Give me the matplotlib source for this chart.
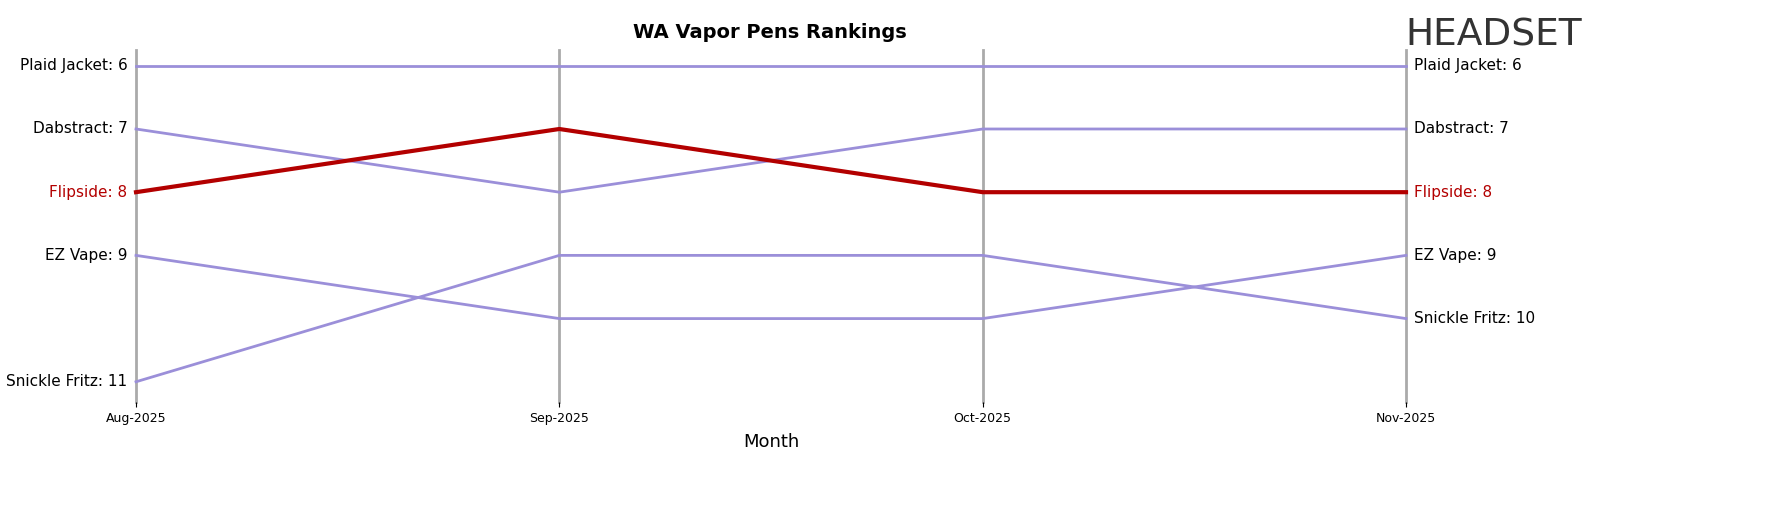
import matplotlib
matplotlib.use("Agg")
import matplotlib.pyplot as plt

months = ["Aug-2025", "Sep-2025", "Oct-2025", "Nov-2025"]
brands = ["Plaid Jacket", "Dabstract", "Flipside", "EZ Vape", "Snickle Fritz"]
ranks = {
    "Plaid Jacket": [6, 6, 6, 6],
    "Dabstract": [7, 8, 7, 7],
    "Flipside": [8, 7, 8, 8],
    "EZ Vape": [9, 10, 10, 9],
    "Snickle Fritz": [11, 9, 9, 10],
}
highlight = "Flipside"

fig = plt.figure(figsize=(17.68, 5.07), dpi=100)
ax = fig.add_axes([136/1768, 1-402/507, 1270/1768, 352/507])
x = list(range(len(months)))
for xi in x:
    ax.axvline(xi, color="#aaaaaa", lw=2, zorder=1, clip_on=False)
for b in brands:
    r = ranks[b]
    if b == highlight:
        ax.plot(x, r, color="#b30000", lw=3, zorder=3, clip_on=False)
        c = "#b30000"
    else:
        ax.plot(x, r, color="#9b8fd9", lw=2, zorder=2, clip_on=False)
        c = "black"
    ax.text(-0.02, r[0], f"{b}: {r[0]}", ha="right", va="center", fontsize=11, color=c)
    ax.text(3.02, r[-1], f"{b}: {r[-1]}", ha="left", va="center", fontsize=11, color=c)
ax.set_xlim(0, 3)
ax.set_ylim(11.32, 5.75)
ax.set_xticks(x)
ax.set_xticklabels(months, fontsize=9)
ax.set_yticks([])
for s in ax.spines.values():
    s.set_visible(False)
ax.set_xlabel("Month", fontsize=13, labelpad=6)
fig.text(770/1768, 1-33/507, "WA Vapor Pens Rankings", ha="center", va="center", fontsize=14, fontweight="bold")
fig.text(1405/1768, 1-35/507, "HEADSET", ha="left", va="center", fontsize=27, color="#333333")
fig.savefig("out.png", dpi=100)
